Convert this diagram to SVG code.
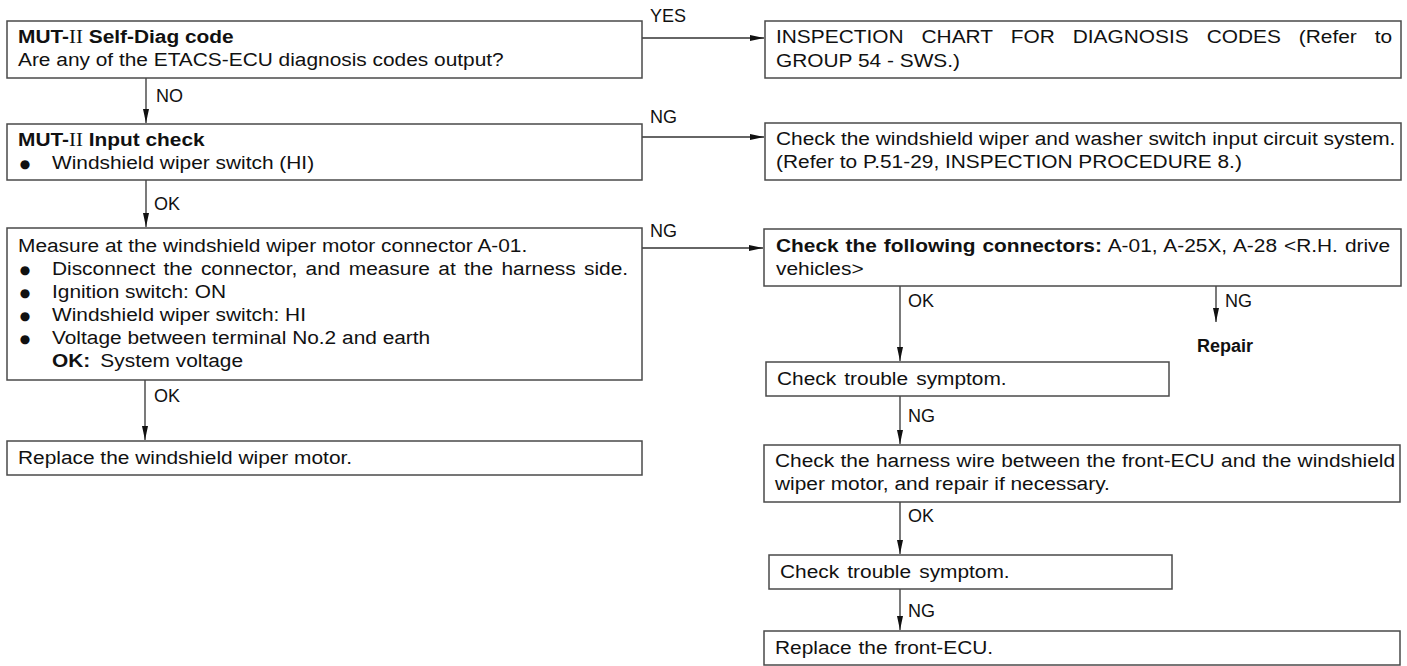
<svg xmlns="http://www.w3.org/2000/svg" width="1407" height="666" viewBox="0 0 1407 666">
<style>
.box{fill:#fff;stroke:#4a4a4a;stroke-width:1.5}
.t{font-family:"Liberation Sans",Arial,sans-serif;font-size:18px;fill:#111}
.b{font-weight:bold}
.r{font-family:"Liberation Serif","Times New Roman",serif;font-weight:normal}
.bul{font-family:"DejaVu Sans",sans-serif;font-size:12px;fill:#111;text-anchor:middle}
.c{stroke:#333;stroke-width:1.3;fill:none}
</style>
<defs>
<marker id="ah" viewBox="0 0 14 8" refX="14" refY="4" markerWidth="14" markerHeight="8" markerUnits="userSpaceOnUse" orient="auto">
<path d="M0,1 L14,4 L0,7 z" fill="#111"/>
</marker>
</defs>

<g id="connectors">
<line class="c" x1="642" y1="38" x2="764" y2="38" marker-end="url(#ah)"/>
<line class="c" x1="642" y1="137" x2="764" y2="137" marker-end="url(#ah)"/>
<line class="c" x1="642" y1="248" x2="763" y2="248" marker-end="url(#ah)"/>
<line class="c" x1="146" y1="78" x2="146" y2="123" marker-end="url(#ah)"/>
<line class="c" x1="146" y1="180" x2="146" y2="227" marker-end="url(#ah)"/>
<line class="c" x1="145" y1="380" x2="145" y2="440" marker-end="url(#ah)"/>
<line class="c" x1="900" y1="286" x2="900" y2="361" marker-end="url(#ah)"/>
<line class="c" x1="1216" y1="286" x2="1216" y2="322" marker-end="url(#ah)"/>
<line class="c" x1="900" y1="396" x2="900" y2="444" marker-end="url(#ah)"/>
<line class="c" x1="900" y1="502" x2="900" y2="554" marker-end="url(#ah)"/>
<line class="c" x1="900" y1="589" x2="900" y2="630" marker-end="url(#ah)"/>
<text class="t" x="650" y="22">YES</text>
<text class="t" x="156" y="102">NO</text>
<text class="t" x="650" y="123">NG</text>
<text class="t" x="154" y="210">OK</text>
<text class="t" x="650" y="237">NG</text>
<text class="t" x="154" y="402">OK</text>
<text class="t" x="908" y="307">OK</text>
<text class="t" x="1225" y="307">NG</text>
<text class="t" x="908" y="422">NG</text>
<text class="t" x="908" y="522">OK</text>
<text class="t" x="908" y="617">NG</text>
</g>

<g id="n1">
<rect class="box" x="7" y="21" width="635" height="57"/>
<g transform="translate(18 0) scale(1.16 1)">
<text class="t" x="0" y="43"><tspan class="b">MUT-</tspan><tspan class="r">II</tspan><tspan class="b"> Self-Diag code</tspan></text>
<text class="t" x="0" y="66">Are any of the ETACS-ECU diagnosis codes output?</text>
</g>
</g>

<g id="n2">
<rect class="box" x="765" y="21" width="636" height="57"/>
<g transform="translate(776 0) scale(1.16 1)">
<text class="t" x="0" y="43" word-spacing="10.5">INSPECTION CHART FOR DIAGNOSIS CODES (Refer to</text>
<text class="t" x="0" y="67">GROUP 54 - SWS.)</text>
</g>
</g>

<g id="n3">
<rect class="box" x="7" y="124" width="635" height="56"/>
<g transform="translate(18 0) scale(1.16 1)">
<text class="t" x="0" y="146"><tspan class="b">MUT-</tspan><tspan class="r">II</tspan><tspan class="b"> Input check</tspan></text>
<text class="t" x="29.3" y="169">Windshield wiper switch (HI)</text>
</g>
<text class="bul" x="25" y="168">●</text>
</g>

<g id="n4">
<rect class="box" x="765" y="123" width="636" height="57"/>
<g transform="translate(776 0) scale(1.16 1)">
<text class="t" x="0" y="145">Check the windshield wiper and washer switch input circuit system.</text>
<text class="t" x="0" y="168">(Refer to P.51-29, INSPECTION PROCEDURE 8.)</text>
</g>
</g>

<g id="n5">
<rect class="box" x="7" y="228" width="635" height="152"/>
<g transform="translate(18 0) scale(1.16 1)">
<text class="t" x="0" y="252">Measure at the windshield wiper motor connector A-01.</text>
<text class="t" x="29.3" y="275" word-spacing="2.2">Disconnect the connector, and measure at the harness side.</text>
<text class="t" x="29.3" y="298">Ignition switch: ON</text>
<text class="t" x="29.3" y="321">Windshield wiper switch: HI</text>
<text class="t" x="29.3" y="344">Voltage between terminal No.2 and earth</text>
<text class="t" x="29.3" y="367"><tspan class="b">OK:</tspan><tspan x="71">System voltage</tspan></text>
</g>
<text class="bul" x="25" y="274">●</text>
<text class="bul" x="25" y="297">●</text>
<text class="bul" x="25" y="320">●</text>
<text class="bul" x="25" y="343">●</text>
</g>

<g id="n6">
<rect class="box" x="764" y="229" width="637" height="57"/>
<g transform="translate(776 0) scale(1.16 1)">
<text class="t" x="0" y="252" word-spacing="1"><tspan class="b">Check the following connectors:</tspan> A-01, A-25X, A-28 &lt;R.H. drive</text>
<text class="t" x="0" y="275">vehicles&gt;</text>
</g>
</g>

<g id="n-repair">
<text class="t b" x="1197" y="352">Repair</text>
</g>

<g id="n7">
<rect class="box" x="7" y="441" width="635" height="34"/>
<g transform="translate(18 0) scale(1.16 1)">
<text class="t" x="0" y="464">Replace the windshield wiper motor.</text>
</g>
</g>

<g id="n8">
<rect class="box" x="766" y="362" width="403" height="34"/>
<g transform="translate(777 0) scale(1.16 1)">
<text class="t" x="0" y="385" word-spacing="2">Check trouble symptom.</text>
</g>
</g>

<g id="n9">
<rect class="box" x="764" y="445" width="636" height="57"/>
<g transform="translate(775 0) scale(1.16 1)">
<text class="t" x="0" y="467" word-spacing="0.5">Check the harness wire between the front-ECU and the windshield</text>
<text class="t" x="0" y="490">wiper motor, and repair if necessary.</text>
</g>
</g>

<g id="n10">
<rect class="box" x="769" y="555" width="403" height="34"/>
<g transform="translate(780 0) scale(1.16 1)">
<text class="t" x="0" y="578" word-spacing="2">Check trouble symptom.</text>
</g>
</g>

<g id="n11">
<rect class="box" x="764" y="631" width="636" height="34"/>
<g transform="translate(775 0) scale(1.16 1)">
<text class="t" x="0" y="654" word-spacing="1">Replace the front-ECU.</text>
</g>
</g>
</svg>
